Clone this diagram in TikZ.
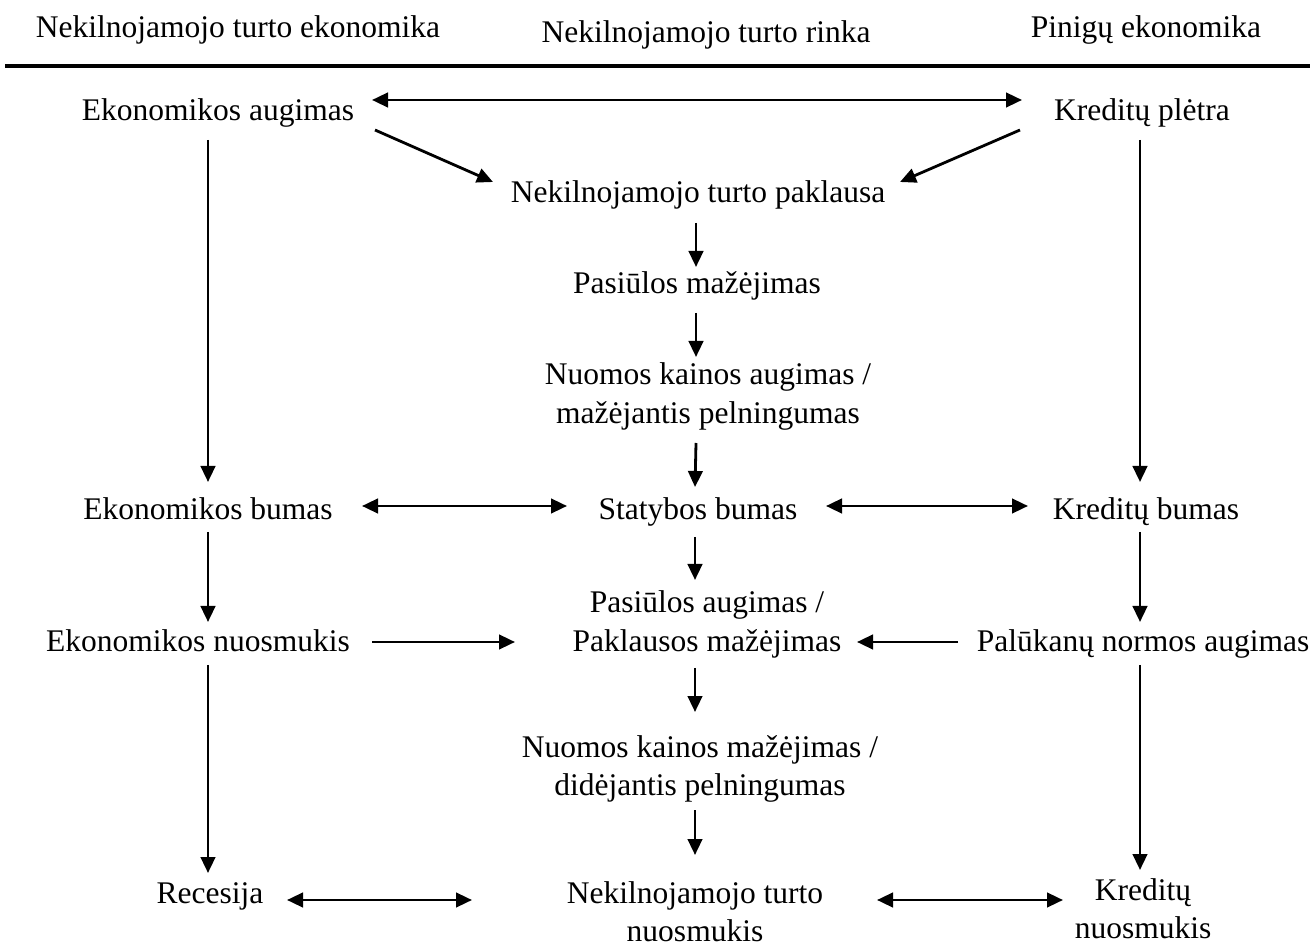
\documentclass[tikz,border=0pt]{standalone}
\usepackage{fontspec}
\setmainfont{Liberation Serif}
\usetikzlibrary{arrows.meta}
% two centred lines; the box's baseline is that of the first line
\newcommand\twolines[2]{\vtop{\halign{\hfil##\hfil\cr#1\cr#2\cr}}}
\begin{document}
\begin{tikzpicture}[x=1pt,y=1pt,
  lbl/.style={inner sep=0pt, font=\fontsize{31.5}{38.5}\selectfont, anchor=base},
  arr/.style={line width=2.8pt, -{Triangle[length=16pt,width=14.5pt]}},
  darr/.style={line width=2.8pt, {Triangle[length=16pt,width=14.5pt]}-{Triangle[length=16pt,width=14.5pt]}},
  rulestroke/.style={line width=4.5pt}]
\useasboundingbox[fill=white] (0,0) rectangle (1316,948);

% column headings and rule
\node[lbl] (h1) at (238,910) {Nekilnojamojo turto ekonomika};
\node[lbl] (h2) at (706,905) {Nekilnojamojo turto rinka};
\node[lbl] (h3) at (1146,910) {Pinigų ekonomika};
\coordinate (ruleL) at (5,882);
\coordinate (ruleR) at (1310,882);
\draw[rulestroke] (ruleL) -- (ruleR);

% left column: real estate economy
\node[lbl] (ea) at (218,827) {Ekonomikos augimas};
\node[lbl] (eb) at (208,428) {Ekonomikos bumas};
\node[lbl] (en) at (198,296) {Ekonomikos nuosmukis};
\node[lbl] (rc) at (210,45) {Recesija};

% middle column: real estate market
\node[lbl] (mp) at (698,745) {Nekilnojamojo turto paklausa};
\node[lbl] (pm) at (697,654) {Pasiūlos mažėjimas};
\node[lbl] (na) at (708,563) {\twolines{Nuomos kainos augimas /}{mažėjantis pelningumas}};
\node[lbl] (sb) at (698,428) {Statybos bumas};
\node[lbl] (pa) at (707,335) {\twolines{Pasiūlos augimas /}{Paklausos mažėjimas}};
\node[lbl] (nm) at (700,191) {\twolines{Nuomos kainos mažėjimas /}{didėjantis pelningumas}};
\node[lbl] (nn) at (695,45) {\twolines{Nekilnojamojo turto}{nuosmukis}};

% right column: monetary economy
\node[lbl] (kp) at (1142,827) {Kreditų plėtra};
\node[lbl] (kb) at (1146,428) {Kreditų bumas};
\node[lbl] (pn) at (1143,296) {Palūkanų normos augimas};
\node[lbl] (kn) at (1143,48) {\twolines{Kreditų}{nuosmukis}};

% top row
\draw[darr] ([shift={(154,21)}]ea.base) -- ([shift={(-120,21)}]kp.base);
\draw[arr] ([shift={(157,-9)}]ea.base) -- ([shift={(-205,21)}]mp.base);
\draw[arr] ([shift={(-122,-9)}]kp.base) -- ([shift={(202,21)}]mp.base);

% middle chain
\draw[arr] ([shift={(-2,-20)}]mp.base) -- ([shift={(-1,27)}]pm.base);
\draw[arr] ([shift={(-1,-19)}]pm.base) -- ([shift={(-12,28)}]na.base);
\draw[arr] ([shift={(-12,-58)}]na.base) -- ([shift={(-3,33)}]sb.base);
\draw[arr] ([shift={(-3,-17)}]sb.base) -- ([shift={(-12,33)}]pa.base);
\draw[arr] ([shift={(-12,-55)}]pa.base) -- ([shift={(-5,45)}]nm.base);
\draw[arr] ([shift={(-5,-53)}]nm.base) -- ([shift={(0,48)}]nn.base);

% left chain
\draw[arr] ([shift={(-10,-19)}]ea.base) -- ([shift={(0,38)}]eb.base);
\draw[arr] ([shift={(0,-12)}]eb.base) -- ([shift={(10,30)}]en.base);
\draw[arr] ([shift={(10,-13)}]en.base) -- ([shift={(-2,30)}]rc.base);

% right chain
\draw[arr] ([shift={(-2,-19)}]kp.base) -- ([shift={(-6,38)}]kb.base);
\draw[arr] ([shift={(-6,-12)}]kb.base) -- ([shift={(-3,30)}]pn.base);
\draw[arr] ([shift={(-3,-13)}]pn.base) -- ([shift={(-3,30)}]kn.base);

% boom row
\draw[darr] ([shift={(154,14)}]eb.base) -- ([shift={(-131,14)}]sb.base);
\draw[darr] ([shift={(128,14)}]sb.base) -- ([shift={(-118,14)}]kb.base);

% downturn row
\draw[arr] ([shift={(174,10)}]en.base) -- ([shift={(-192,-29)}]pa.base);
\draw[arr] ([shift={(-185,10)}]pn.base) -- ([shift={(150,-29)}]pa.base);

% bottom row
\draw[darr] ([shift={(77,3)}]rc.base) -- ([shift={(-223,3)}]nn.base);
\draw[darr] ([shift={(182,3)}]nn.base) -- ([shift={(-80,0)}]kn.base);
\end{tikzpicture}
\end{document}
